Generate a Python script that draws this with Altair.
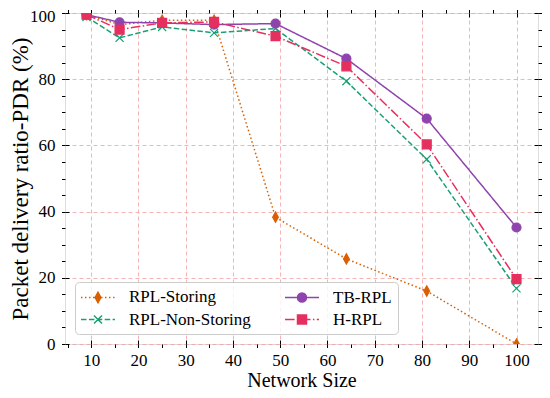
import altair as alt
import pandas as pd

network_size = [9, 16, 25, 36, 49, 64, 81, 100]
series_names = ["RPL-Storing", "RPL-Non-Storing", "TB-RPL", "H-RPL"]
rpl_storing = [99.5, 96.5, 97.8, 97.8, 38.3, 25.7, 16.0, 0.0]
rpl_non_storing = [98.8, 92.5, 95.8, 94.0, 95.3, 79.4, 55.8, 16.8]
tb_rpl = [99.5, 97.2, 97.0, 96.5, 96.8, 86.2, 68.1, 35.2]
h_rpl = [99.5, 95.0, 97.0, 97.3, 93.0, 83.9, 60.3, 19.6]
x_ticks = [10, 20, 30, 40, 50, 60, 70, 80, 90, 100]
y_ticks = [0, 20, 40, 60, 80, 100]

colors = ["#d95f02", "#1b9e77", "#8e44ad", "#e5305f"]
dashes = [[1.5, 2.5], [5.5, 2.4], [1, 0], [9.6, 2.4, 1.5, 2.4]]

rows = []
for name, vals in zip(series_names, [rpl_storing, rpl_non_storing, tb_rpl, h_rpl]):
    for xv, yv in zip(network_size, vals):
        rows.append({"size": xv, "pdr": yv, "series": name})
df = pd.DataFrame(rows)

# marker shapes for plot points (unit = sqrt(size)/2)
marker_shapes = [
    "M0,-1.14L0.63,0L0,1.14L-0.63,0Z",
    "M-0.9,-0.9L0.9,0.9M-0.9,0.9L0.9,-0.9",
    "circle",
    "square",
]

# legend handle paths: line segment with marker; one path unit = U px
LEG_SIZE = 256
U = (LEG_SIZE ** 0.5) / 2
HALF = 17.0


def seg_path(pattern):
    out = []
    x = -HALF
    i = 0
    while x < HALF - 1e-6:
        L = pattern[i % len(pattern)]
        end = min(x + L, HALF)
        if i % 2 == 0 and L > 0:
            out.append(f"M{x / U:.3f},0L{end / U:.3f},0")
        x += L
        i += 1
    return "".join(out)


def f(v):
    return f"{v / U:.3f}"


a, b = 5.15, 2.85
r = 4.5
s = 4.5
c = 4.0
legend_markers = [
    f"M0,{f(-a)}L{f(b)},0L0,{f(a)}L{f(-b)},0Z",
    f"M{f(-c)},{f(-c)}L{f(c)},{f(c)}M{f(-c)},{f(c)}L{f(c)},{f(-c)}",
    f"M{f(r)},0A{f(r)},{f(r)} 0 1,1 {f(-r)},0A{f(r)},{f(r)} 0 1,1 {f(r)},0Z",
    f"M{f(-s)},{f(-s)}L{f(s)},{f(-s)}L{f(s)},{f(s)}L{f(-s)},{f(s)}Z",
]
legend_lines = [seg_path([1.5, 2.5]), seg_path([5.5, 2.4]), seg_path([40, 1]),
                seg_path([9.6, 2.4, 1.5, 2.4])]
legend_paths = [ln + mk for ln, mk in zip(legend_lines, legend_markers)]

W, H = 473, 331
FONT = "Liberation Serif"
x_scale = alt.Scale(domain=[4.45, 104.55], nice=False, zero=False)
y_scale = alt.Scale(domain=[0, 100], nice=False)
minor_x = list(range(5, 101, 5))
minor_y = list(range(0, 101, 5))

grid_x = {"condition": {"test": "datum.value % 10 === 0", "value": 1}, "value": 0}
grid_y = {"condition": {"test": "datum.value % 20 === 0", "value": 1}, "value": 0}
top_label_shift = {"condition": {"test": "datum.value === 100", "value": 3.5}, "value": 0}

tick_common = dict(labels=False, grid=False, domain=False, tickColor="black",
                   tickWidth=1, title=None)

ax_x_main = alt.Axis(values=minor_x, orient="bottom", grid=True, gridColor="#f5a0a0",
                     gridDash=[4, 3], gridWidth=0.8, gridOpacity=grid_x, domain=False,
                     tickSize=3.5, tickColor="black", tickWidth=1,
                     labelExpr="datum.value % 10 === 0 ? datum.label : ''",
                     labelFont=FONT, labelFontSize=17, labelColor="black", labelPadding=5,
                     title="Network Size", titleFont=FONT, titleFontSize=20,
                     titleFontWeight="normal", titleColor="black", titlePadding=2)
ax_y_main = alt.Axis(values=minor_y, orient="left", grid=True, gridColor="#f5a0a0",
                     gridDash=[4, 3], gridWidth=0.8, gridOpacity=grid_y, domain=False,
                     tickSize=3.5, tickColor="black", tickWidth=1,
                     labelExpr="datum.value % 20 === 0 ? datum.label : ''",
                     labelOffset=top_label_shift,
                     labelFont=FONT, labelFontSize=17, labelColor="black", labelPadding=6.5,
                     title="Packet delivery ratio-PDR (%)", titleFont=FONT, titleFontSize=23,
                     titleFontWeight="normal", titleColor="black", titlePadding=-3)

ax_x_in_bottom = alt.Axis(orient="top", offset=-H, values=x_ticks, tickSize=4, **tick_common)
ax_y_in_left = alt.Axis(orient="right", offset=-W, values=y_ticks, tickSize=4, **tick_common)
ax_x_top = alt.Axis(orient="top", values=minor_x, tickSize=3.5, **tick_common)
ax_y_right = alt.Axis(orient="right", values=minor_y, tickSize=3.5, **tick_common)
ax_x_in_top = alt.Axis(orient="bottom", offset=-H, values=x_ticks, tickSize=4, **tick_common)
ax_y_in_right = alt.Axis(orient="left", offset=-W, values=y_ticks, tickSize=4, **tick_common)

base = alt.Chart(df)

lines = base.mark_line(strokeWidth=1.5, clip=True).encode(
    x=alt.X("size:Q", scale=x_scale, axis=ax_x_main),
    y=alt.Y("pdr:Q", scale=y_scale, axis=ax_y_main),
    stroke=alt.Stroke("series:N", scale=alt.Scale(domain=series_names, range=colors), legend=None),
    strokeDash=alt.StrokeDash("series:N", scale=alt.Scale(domain=series_names, range=dashes), legend=None),
    detail="series:N",
)

points = base.mark_point(size=81, strokeWidth=1.2, opacity=1, clip=True).encode(
    x=alt.X("size:Q", scale=x_scale, axis=ax_x_in_bottom),
    y=alt.Y("pdr:Q", scale=y_scale, axis=ax_y_in_left),
    fill=alt.Fill("series:N", scale=alt.Scale(domain=series_names, range=colors), legend=None),
    stroke=alt.Stroke("series:N", scale=alt.Scale(domain=series_names, range=colors), legend=None),
    shape=alt.Shape("series:N", scale=alt.Scale(domain=series_names, range=marker_shapes), legend=None),
)

leg = alt.Legend(title=None, orient="bottom-left", offset=10, columns=2, columnPadding=31,
                 rowPadding=4.5, padding=6, symbolSize=LEG_SIZE, symbolStrokeWidth=1.5,
                 symbolOpacity=1, symbolOffset=8, labelFont=FONT, labelFontSize=17,
                 labelColor="black", labelOffset=22, fillColor="rgba(255,255,255,0.8)",
                 strokeColor="#cccccc", cornerRadius=4)

legend_layer = base.transform_filter("false").mark_point(size=LEG_SIZE, strokeWidth=1.5, opacity=1, filled=True).encode(
    x=alt.X("size:Q", scale=x_scale, axis=ax_x_top),
    y=alt.Y("pdr:Q", scale=y_scale, axis=ax_y_right),
    fill=alt.Fill("series:N", scale=alt.Scale(domain=series_names, range=colors), legend=leg),
    stroke=alt.Stroke("series:N", scale=alt.Scale(domain=series_names, range=colors), legend=leg),
    shape=alt.Shape("series:N", scale=alt.Scale(domain=series_names, range=legend_paths), legend=leg),
)

extra = base.transform_filter("false").mark_point().encode(
    x=alt.X("size:Q", scale=x_scale, axis=ax_x_in_top),
    y=alt.Y("pdr:Q", scale=y_scale, axis=ax_y_in_right),
)

chart = alt.layer(lines, points, legend_layer, extra).resolve_scale(
    fill="independent", stroke="independent", shape="independent"
).resolve_axis(x="independent", y="independent").properties(
    width=W, height=H,
    autosize=alt.AutoSizeParams(type="none"),
    padding={"left": 57, "top": 5, "right": 4, "bottom": 46},
).configure_view(stroke="black", strokeWidth=1.3).configure(background="white")

chart.save("out.html", embed_options={"renderer": "svg", "actions": False})
